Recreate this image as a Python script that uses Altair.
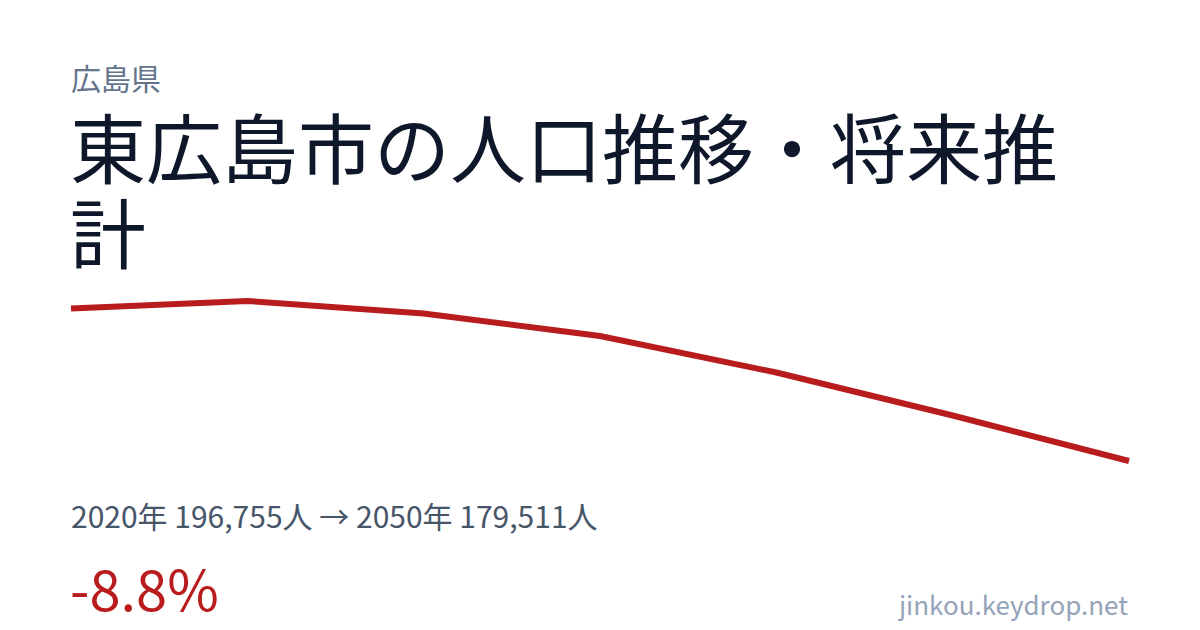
import altair as alt
import pandas as pd

years = [2020, 2025, 2030, 2035, 2040, 2045, 2050]
population = [196755, 197603, 196190, 193645, 189518, 184656, 179511]

prefecture = "広島県"
title_line1 = "東広島市の人口推移・将来推"
title_line2 = "計"
summary = "2020年 196,755人 → 2050年 179,511人"
change = "-8.8%"
site = "jinkou.keydrop.net"

df = pd.DataFrame({"year": years, "pop": population})

FONT = "Noto Sans CJK JP"
W, H = 1184, 614

line = alt.Chart(df).mark_line(color="#b91c1c", strokeWidth=6, strokeCap="butt", strokeJoin="miter").encode(
    x=alt.X("year:Q", axis=None, scale=alt.Scale(domain=[2020, 2050], range=[63, 1121], nice=False, zero=False)),
    y=alt.Y("pop:Q", axis=None, scale=alt.Scale(domain=[min(population), max(population)], range=[453, 293], nice=False, zero=False)),
)

base = alt.Chart(pd.DataFrame({"a": [0]}))

def txt(text, x, y, size, color, align="left", weight="normal"):
    return base.mark_text(
        text=text, font=FONT, fontSize=size, color=color, align=align,
        baseline="alphabetic", fontWeight=weight,
    ).encode(x=alt.value(x), y=alt.value(y))

layers = [
    line,
    txt(prefecture, 63, 82, 30, "#64748b"),
    txt(title_line1, 62, 170, 76, "#0f172a"),
    txt(title_line2, 62, 255, 76, "#0f172a"),
    txt(summary, 63, 520, 30, "#475569"),
    txt(change, 62, 603, 56, "#b91c1c"),
    txt(site, 1120, 607, 26, "#94a3b8", align="right"),
]

chart = alt.layer(*layers).properties(
    width=W, height=H, autosize=alt.AutoSizeParams(type="none"), padding=0,
    background="#ffffff",
).configure_view(stroke=None)

chart.save("out.html", embed_options={"renderer": "svg", "actions": False})
